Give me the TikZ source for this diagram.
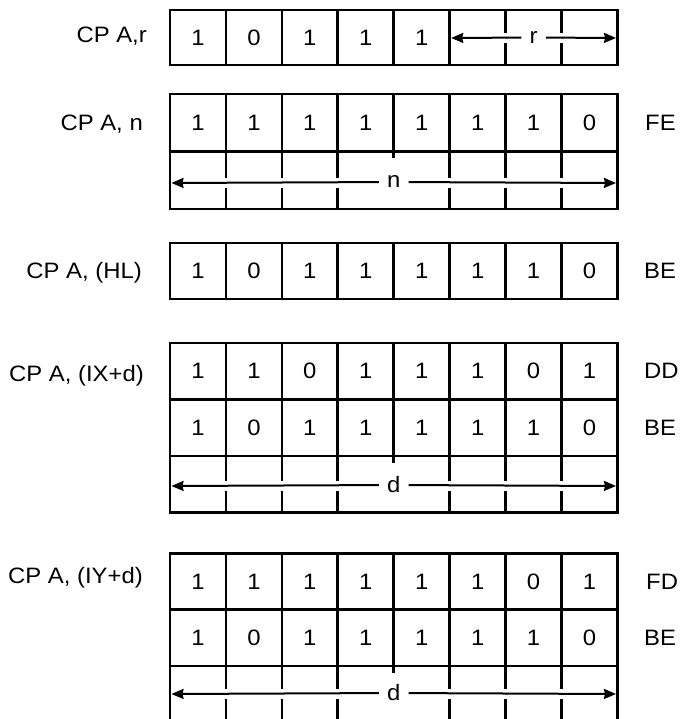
\documentclass[tikz,border=0pt]{standalone}
\usepackage{fontspec}
\setmainfont{Liberation Sans}[FakeStretch=1.07]
\usetikzlibrary{arrows.meta}
\begin{document}
\begin{tikzpicture}[x=1pt,y=-1pt,
  grid/.style={line width=2.7pt, line cap=rect},
  txt/.style={font=\fontsize{22.3}{26}\selectfont, inner sep=0pt},
  bit/.style={txt},
  lbl/.style={txt, anchor=base east},
  hex/.style={txt, anchor=west},
  midlbl/.style={txt, fill=white, inner xsep=8pt, inner ysep=2pt},
  span/.style={line width=2pt, -{Stealth[length=12pt,width=10pt,inset=1pt]}},
  halo/.style={white, line width=10pt}
]
\useasboundingbox (0,0) rectangle (679,719);
\clip (0,0) rectangle (679,719);
\def\X{170}\def\W{55.94}\def\R{617.5}
\newcommand\bytecells[3]{%
  \foreach \b [count=\i] in {#3} {
    \node[bit] (#1\i) at ({\X+(\i-0.5)*\W}, #2) {\b};
  }}

% ---------------- CP A,r
\draw[grid] (\X,10) rectangle (\R,65);
\foreach \i in {1,...,7} \draw[grid] ({\X+\i*\W},10) -- ({\X+\i*\W},65);
\bytecells{ra}{37.5}{1,0,1,1,1}
\node[lbl] (labr) at (147,43) {CP A,r};
\draw[halo] ({\X+5*\W+3},38) -- (\R-3,38);
\node[midlbl] (rr) at ({\X+6.5*\W},37.5) {r};
\coordinate (rL) at ({\X+5*\W+1.5},38);
\coordinate (rR) at (\R-1.5,38);
\draw[span] (rr) -- (rL);
\draw[span] (rr) -- (rR);

% ---------------- CP A, n
\draw[grid] (\X,94) rectangle (\R,209);
\draw[grid] (\X,151.5) -- (\R,151.5);
\foreach \i in {1,...,7} \draw[grid] ({\X+\i*\W},94) -- ({\X+\i*\W},151.5);
\foreach \i in {1,2,3,5,6,7} \draw[grid] ({\X+\i*\W},151.5) -- ({\X+\i*\W},209);
\draw[grid] ({\X+4*\W},151.5) -- ({\X+4*\W},157);
\bytecells{na}{123}{1,1,1,1,1,1,1,0}
\node[lbl] (labn) at (143,131) {CP A, n};
\node[hex] (hexn) at (645,123) {FE};
\draw[halo] (\X+3,183) -- (\R-3,183);
\node[midlbl] (nn) at ({\X+4*\W},182) {n};
\coordinate (nL) at (\X+1.5,183);
\coordinate (nR) at (\R-1.5,183);
\draw[span] (nn) -- (nL);
\draw[span] (nn) -- (nR);

% ---------------- CP A, (HL)
\draw[grid] (\X,243) rectangle (\R,299);
\foreach \i in {1,...,7} \draw[grid] ({\X+\i*\W},243) -- ({\X+\i*\W},299);
\bytecells{hl}{271}{1,0,1,1,1,1,1,0}
\node[lbl] (labhl) at (142,278) {CP A, (HL)};
\node[hex] (hexhl) at (644,271) {BE};

% ---------------- CP A, (IX+d)
\draw[grid] (\X,343) rectangle (\R,512.5);
\draw[grid] (\X,399.5) -- (\R,399.5);
\draw[grid] (\X,456) -- (\R,456);
\foreach \i in {1,...,7} \draw[grid] ({\X+\i*\W},343) -- ({\X+\i*\W},456);
\foreach \i in {1,2,3,5,6,7} \draw[grid] ({\X+\i*\W},456) -- ({\X+\i*\W},512.5);
\draw[grid] ({\X+4*\W},456) -- ({\X+4*\W},461.5);
\bytecells{ixa}{371}{1,1,0,1,1,1,0,1}
\bytecells{ixb}{428}{1,0,1,1,1,1,1,0}
\node[lbl] (labix) at (144,381) {CP A, (IX+d)};
\node[hex] (hexix1) at (644,371) {DD};
\node[hex] (hexix2) at (644,428) {BE};
\draw[halo] (\X+3,486) -- (\R-3,486);
\node[midlbl] (dx) at ({\X+4*\W},485) {d};
\coordinate (dxL) at (\X+1.5,486);
\coordinate (dxR) at (\R-1.5,486);
\draw[span] (dx) -- (dxL);
\draw[span] (dx) -- (dxR);

% ---------------- CP A, (IY+d)
\draw[grid] (\X,553.5) rectangle (\R,722.5);
\draw[grid] (\X,609.5) -- (\R,609.5);
\draw[grid] (\X,666) -- (\R,666);
\foreach \i in {1,...,7} \draw[grid] ({\X+\i*\W},553.5) -- ({\X+\i*\W},666);
\foreach \i in {1,2,3,5,6,7} \draw[grid] ({\X+\i*\W},666) -- ({\X+\i*\W},722.5);
\draw[grid] ({\X+4*\W},666) -- ({\X+4*\W},671.5);
\bytecells{iya}{581.5}{1,1,1,1,1,1,0,1}
\bytecells{iyb}{638}{1,0,1,1,1,1,1,0}
\node[lbl] (labiy) at (143,583) {CP A, (IY+d)};
\node[hex] (hexiy1) at (646,581.5) {FD};
\node[hex] (hexiy2) at (644,638) {BE};
\draw[halo] (\X+3,694) -- (\R-3,694);
\node[midlbl] (dy) at ({\X+4*\W},693) {d};
\coordinate (dyL) at (\X+1.5,694);
\coordinate (dyR) at (\R-1.5,694);
\draw[span] (dy) -- (dyL);
\draw[span] (dy) -- (dyR);
\end{tikzpicture}
\end{document}
